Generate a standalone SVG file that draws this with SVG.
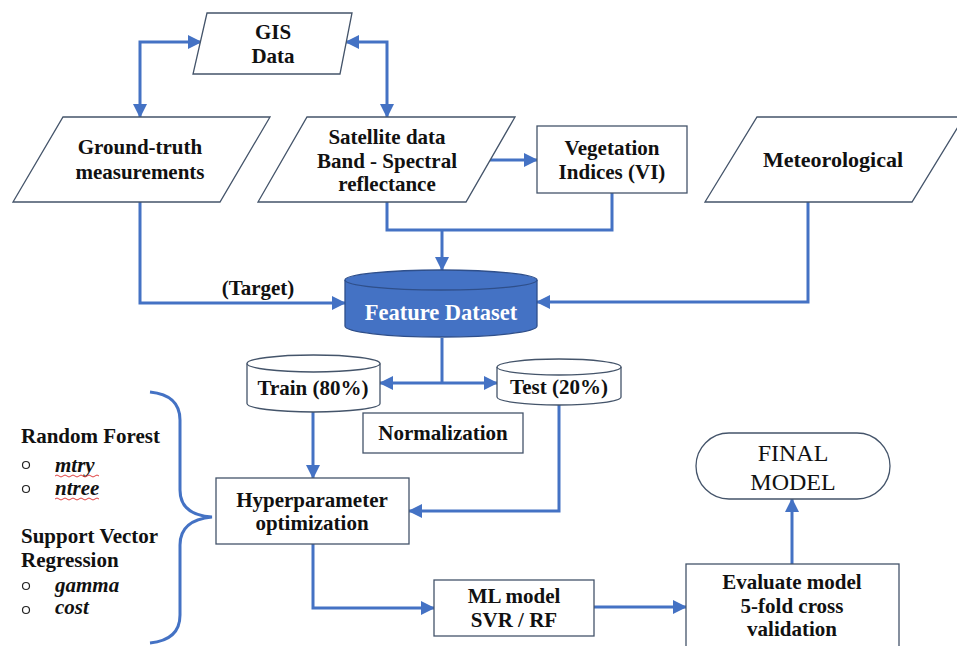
<svg xmlns="http://www.w3.org/2000/svg" width="957" height="646" viewBox="0 0 957 646">
<defs>
<marker id="ah" viewBox="0 0 14 14" markerWidth="14" markerHeight="14" refX="13" refY="7" orient="auto-start-reverse" markerUnits="userSpaceOnUse">
<path d="M0,0 L14,7 L0,14 z" fill="#4472C4"/>
</marker>
<style>
.sh{fill:#fff;stroke:#44546A;stroke-width:1.3}
.t{font-family:"Liberation Serif","Times New Roman",serif;font-weight:bold;font-size:21px;fill:#111;text-anchor:middle}
.l{font-family:"Liberation Serif","Times New Roman",serif;font-weight:bold;font-size:21px;fill:#111}
.i{font-family:"Liberation Serif","Times New Roman",serif;font-weight:bold;font-style:italic;font-size:21px;fill:#111}
.c{fill:none;stroke:#4472C4;stroke-width:3}
.a{marker-end:url(#ah)}
.b{marker-start:url(#ah);marker-end:url(#ah)}
.bul{fill:none;stroke:#222;stroke-width:1.2}
.sq{fill:none;stroke:#E04040;stroke-width:1}
</style>
</defs>
<rect width="957" height="646" fill="#fff"/>

<g id="connectors">
<path class="c b" d="M201,42 H140 V117"/>
<path class="c b" d="M346,42 H387 V117"/>
<path class="c a" d="M468,160 H537"/>
<path class="c a" d="M140,202 V303 H345"/>
<path class="c" d="M387,202 V230 H612 V193"/>
<path class="c a" d="M442,230 V270"/>
<path class="c a" d="M808,202 V302 H537"/>
<path class="c" d="M442,338 V383"/>
<path class="c a" d="M442,383 H380"/>
<path class="c a" d="M442,383 H497"/>
<path class="c a" d="M313,412 V478"/>
<path class="c a" d="M559,405 V511 H409"/>
<path class="c a" d="M313,544 V608 H434"/>
<path class="c a" d="M594,607 H686"/>
<path class="c a" d="M792,564 V499"/>
<path class="c" d="M150,392 Q180,395 180,420 V490 Q180,515 212,517 Q180,520 180,545 V615 Q180,640 150,643"/>
</g>

<g id="gis">
<polygon class="sh" points="207,13 352,13 340,74 193,74"/>
<text class="t" x="273" y="39">GIS</text>
<text class="t" x="273" y="63">Data</text>
</g>

<g id="ground-truth">
<polygon class="sh" points="63,117 270,117 220,202 13,202"/>
<text class="t" x="140" y="154">Ground-truth</text>
<text class="t" x="140" y="179">measurements</text>
</g>

<g id="satellite">
<polygon class="sh" points="307,117 515,117 466,202 258,202"/>
<text class="t" x="387" y="144">Satellite data</text>
<text class="t" x="387" y="168">Band - Spectral</text>
<text class="t" x="387" y="191">reflectance</text>
</g>

<g id="vegetation">
<rect class="sh" x="537" y="126" width="150" height="67"/>
<text class="t" x="612" y="155">Vegetation</text>
<text class="t" x="612" y="179">Indices (VI)</text>
</g>

<g id="meteorological">
<polygon class="sh" points="757,117 964,117 912,202 705,202"/>
<text class="t" x="833" y="167" style="font-size:22px">Meteorological</text>
</g>

<g id="target-label">
<text class="t" x="258" y="295">(Target)</text>
</g>

<g id="feature-dataset">
<path d="M345,280 A96,10 0 0 1 537,280 V326 A96,11 0 0 1 345,326 Z" fill="#4472C4" stroke="#2F4F8A" stroke-width="1.3"/>
<path d="M345,280 A96,10 0 0 0 537,280" fill="none" stroke="#2F4F8A" stroke-width="1.3"/>
<text class="t" x="441" y="320" style="fill:#fff;font-size:22.5px">Feature Dataset</text>
</g>

<g id="train">
<path class="sh" d="M247,363.5 A66.5,8.5 0 0 1 380,363.5 V403.5 A66.5,8.5 0 0 1 247,403.5 Z"/>
<path class="sh" style="fill:none" d="M247,363.5 A66.5,8.5 0 0 0 380,363.5"/>
<text class="t" x="313" y="395">Train (80%)</text>
</g>

<g id="test">
<path class="sh" d="M497,367 A62,8 0 0 1 621,367 V397 A62,8 0 0 1 497,397 Z"/>
<path class="sh" style="fill:none" d="M497,367 A62,8 0 0 0 621,367"/>
<text class="t" x="559" y="394">Test (20%)</text>
</g>

<g id="normalization">
<rect class="sh" x="363" y="413" width="160" height="40"/>
<text class="t" x="443" y="440">Normalization</text>
</g>

<g id="hyperparameter">
<rect class="sh" x="216" y="478" width="193" height="66"/>
<text class="t" x="312" y="507">Hyperparameter</text>
<text class="t" x="312" y="530">optimization</text>
</g>

<g id="ml-model">
<rect class="sh" x="434" y="580" width="160" height="56"/>
<text class="t" x="514" y="603">ML model</text>
<text class="t" x="514" y="627">SVR / RF</text>
</g>

<g id="evaluate">
<rect class="sh" x="686" y="564" width="213" height="90"/>
<text class="t" x="792" y="589">Evaluate model</text>
<text class="t" x="792" y="613">5-fold cross</text>
<text class="t" x="792" y="636">validation</text>
</g>

<g id="final-model">
<rect class="sh" x="696" y="433" width="194" height="66" rx="33" ry="33"/>
<text class="t" x="793" y="461" style="font-weight:normal;font-size:24px">FINAL</text>
<text class="t" x="793" y="490" style="font-weight:normal;font-size:24px">MODEL</text>
</g>

<g id="hyperparameters-list">
<text class="l" x="21" y="443">Random Forest</text>
<circle class="bul" cx="26" cy="465" r="3.5"/>
<text class="i" x="55" y="472">mtry</text>
<path class="sq" d="M55,476 q2,-2 4,0 t4,0 t4,0 t4,0 t4,0 t4,0 t4,0 t4,0 t4,0 t4,0 t4,0"/>
<circle class="bul" cx="26" cy="489" r="3.5"/>
<text class="i" x="55" y="495">ntree</text>
<path class="sq" d="M55,499 q2,-2 4,0 t4,0 t4,0 t4,0 t4,0 t4,0 t4,0 t4,0 t4,0 t4,0 t4,0"/>
<text class="l" x="21" y="543">Support Vector</text>
<text class="l" x="21" y="567">Regression</text>
<circle class="bul" cx="26" cy="586" r="3.5"/>
<text class="i" x="55" y="592">gamma</text>
<circle class="bul" cx="26" cy="610" r="3.5"/>
<text class="i" x="55" y="614">cost</text>
</g>
</svg>
